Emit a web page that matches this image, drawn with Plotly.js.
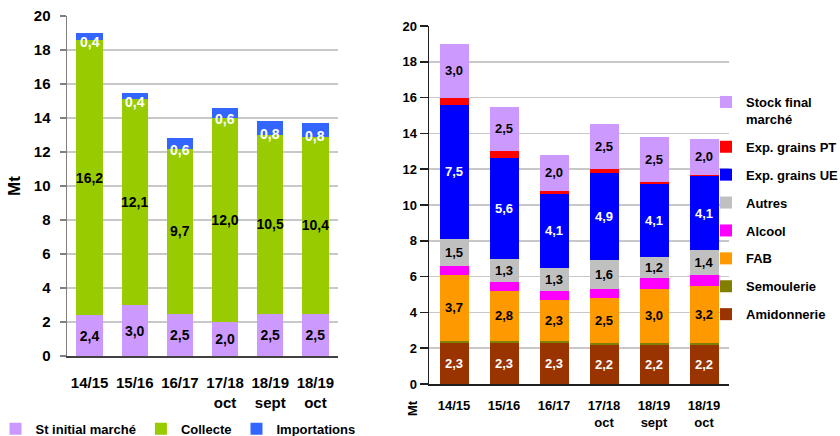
<!DOCTYPE html>
<html>
<head>
<meta charset="utf-8">
<script src="https://cdn.plot.ly/plotly-3.0.1.min.js"></script>
<style>
html,body{margin:0;padding:0;background:#fff;}
#chart{width:840px;height:436px;}
</style>
</head>
<body>
<div id="chart"></div>
<script>
// Categories
var campaigns = ['14/15', '15/16', '16/17', '17/18<br>oct', '18/19<br>sept', '18/19<br>oct'];

// Left chart: ressources (Mt)
var stInitial = [2.4, 3.0, 2.5, 2.0, 2.5, 2.5];
var collecte = [16.2, 12.1, 9.7, 12.0, 10.5, 10.4];
var importations = [0.4, 0.4, 0.6, 0.6, 0.8, 0.8];

// Right chart: emplois (Mt)
var amidonnerie = [2.3, 2.3, 2.3, 2.2, 2.2, 2.2];
var semoulerie = [0.1, 0.1, 0.1, 0.1, 0.1, 0.1];
var fab = [3.7, 2.8, 2.3, 2.5, 3.0, 3.2];
var alcool = [0.5, 0.5, 0.5, 0.5, 0.6, 0.6];
var autres = [1.5, 1.3, 1.3, 1.6, 1.2, 1.4];
var expUE = [7.5, 5.6, 4.1, 4.9, 4.1, 4.1];
var expPT = [0.4, 0.4, 0.2, 0.2, 0.1, 0.1];
var stockFinal = [3.0, 2.5, 2.0, 2.5, 2.5, 2.0];

var FONT = 'Liberation Sans, Arial, sans-serif';

function fmt(v) { return v.toFixed(1).replace('.', ','); }

function barTrace(name, y, color, opts) {
  var t = {
    type: 'bar', name: name, x: campaigns, y: y,
    marker: {color: color, line: {width: 0}},
    hoverinfo: 'name+y'
  };
  for (var k in opts) t[k] = opts[k];
  return t;
}
function labelled(textColor, size) {
  return {
    texttemplate: '%{y:.1f}', textposition: 'inside', insidetextanchor: 'middle',
    constraintext: 'none', textangle: 0,
    textfont: {family: FONT, size: size, color: textColor, weight: 'bold'}
  };
}
function merge(a, b) { var o = {}; for (var k in a) o[k] = a[k]; for (var k2 in b) o[k2] = b[k2]; return o; }

var L = {xaxis: 'x', yaxis: 'y', legend: 'legend'};
var R = {xaxis: 'x2', yaxis: 'y2', legend: 'legend2'};

var data = [
  barTrace('St initial marché', stInitial, '#CC99FF', merge(L, labelled('#000', 14))),
  barTrace('Collecte', collecte, '#99CC00', merge(L, labelled('#000', 14))),
  barTrace('Importations', importations, '#3366FF', merge(L, {})),

  barTrace('Amidonnerie', amidonnerie, '#993300', merge(merge(R, labelled('#fff', 13)), {legendgroup: 'g1', legendrank: 8})),
  barTrace('Semoulerie', semoulerie, '#808000', merge(R, {legendgroup: 'g2', legendrank: 7})),
  barTrace('FAB', fab, '#FF9900', merge(merge(R, labelled('#000', 13)), {legendgroup: 'g3', legendrank: 6})),
  barTrace('Alcool', alcool, '#FF00FF', merge(R, {legendgroup: 'g4', legendrank: 5})),
  barTrace('Autres', autres, '#C0C0C0', merge(merge(R, labelled('#000', 13)), {legendgroup: 'g5', legendrank: 4})),
  barTrace('Exp. grains UE', expUE, '#0000FF', merge(merge(R, labelled('#fff', 13)), {legendgroup: 'g6', legendrank: 3})),
  barTrace('Exp. grains PT', expPT, '#FF0000', merge(R, {legendgroup: 'g7', legendrank: 2})),
  barTrace('Stock final<br>marché', stockFinal, '#CC99FF', merge(merge(R, labelled('#000', 13)), {legendgroup: 'g8', legendrank: 1}))
];

// Import labels (white) sitting around the top of the Collecte segment
var annotations = [];
for (var i = 0; i < campaigns.length; i++) {
  annotations.push({
    xref: 'x', yref: 'y', x: campaigns[i],
    y: stInitial[i] + collecte[i] + importations[i] / 2,
    yshift: -6, xanchor: 'center', yanchor: 'middle', showarrow: false,
    text: fmt(importations[i]),
    font: {family: FONT, size: 14, weight: 'bold', color: '#fff'}
  });
}
annotations.push({
  xref: 'paper', yref: 'paper', x: 412 / 840, y: 28 / 436,
  xanchor: 'center', yanchor: 'middle', showarrow: false,
  text: 'Mt', textangle: -90,
  font: {family: FONT, size: 13, weight: 'bold', color: '#000'}
});

var layout = {
  width: 840, height: 436,
  margin: {l: 0, r: 0, t: 0, b: 0, autoexpand: false},
  paper_bgcolor: '#fff', plot_bgcolor: '#fff',
  separators: ', ',
  barmode: 'stack',
  bargap: 0.42,
  font: {family: FONT, color: '#000'},
  showlegend: true,
  xaxis: {
    domain: [67 / 840, 338 / 840], anchor: 'y',
    type: 'category',
    showline: true, linecolor: '#404040', linewidth: 2,
    ticks: '', ticklabelstandoff: 12,
    tickfont: {family: FONT, size: 15, weight: 'bold', color: '#000'},
    fixedrange: true
  },
  yaxis: {
    domain: [80 / 436, 420 / 436], anchor: 'x',
    range: [0, 20], dtick: 2,
    showline: true, linecolor: '#808080', linewidth: 1.5,
    ticks: 'outside', ticklen: 6, tickcolor: '#808080', tickwidth: 1.5,
    ticklabelstandoff: 6,
    showgrid: true, gridcolor: '#c8c8c8', gridwidth: 1.5,
    zeroline: false,
    tickfont: {family: FONT, size: 15, weight: 'bold', color: '#000'},
    title: {text: 'Mt', font: {family: FONT, size: 17, weight: 'bold', color: '#000'}, standoff: 9},
    fixedrange: true
  },
  xaxis2: {
    domain: [429 / 840, 729 / 840], anchor: 'y2',
    type: 'category',
    showline: true, linecolor: '#202020', linewidth: 2,
    ticks: '', ticklabelstandoff: 8,
    tickfont: {family: FONT, size: 13, weight: 'bold', color: '#000'},
    fixedrange: true
  },
  yaxis2: {
    domain: [52 / 436, 410 / 436], anchor: 'x2',
    range: [0, 20], dtick: 2,
    showline: true, linecolor: '#202020', linewidth: 1.5,
    ticks: 'outside', ticklen: 8, tickcolor: '#202020', tickwidth: 1.5,
    showgrid: true, gridcolor: '#c8c8c8', gridwidth: 1.5,
    zeroline: false,
    tickfont: {family: FONT, size: 13, weight: 'bold', color: '#000'},
    fixedrange: true
  },
  legend: {
    orientation: 'h', traceorder: 'normal',
    x: 178 / 840, xanchor: 'center', y: -0.018, yanchor: 'bottom',
    font: {family: FONT, size: 13, weight: 'bold', color: '#000'},
    bgcolor: 'rgba(0,0,0,0)'
  },
  legend2: {
    orientation: 'v', traceorder: 'grouped', tracegroupgap: 8,
    valign: 'top',
    x: 706 / 840, xanchor: 'left', y: 349 / 436, yanchor: 'top',
    font: {family: FONT, size: 13, weight: 'bold', color: '#000'},
    bgcolor: 'rgba(0,0,0,0)'
  },
  annotations: annotations
};

Plotly.newPlot('chart', data, layout, {displayModeBar: false, staticPlot: true});
</script>
</body>
</html>
